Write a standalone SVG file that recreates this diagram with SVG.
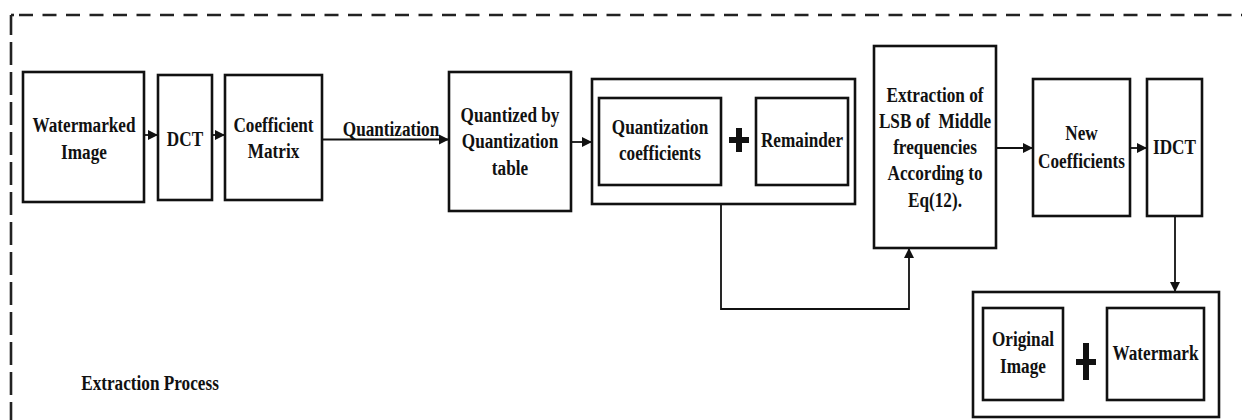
<svg xmlns="http://www.w3.org/2000/svg" width="1242" height="420" viewBox="0 0 1242 420">
<style>
.box{fill:#fff;stroke:#111;stroke-width:2.6}
.line{fill:none;stroke:#111;stroke-width:1.8}
.border{fill:none;stroke:#222;stroke-width:2.6}
.t{font-family:"Liberation Serif","Times New Roman",serif;font-weight:bold;font-size:20px;fill:#111;text-anchor:middle}
.plus{fill:#111}
</style>
<defs>
<marker id="ah" markerUnits="userSpaceOnUse" markerWidth="12" markerHeight="12" refX="10" refY="6" orient="auto">
<path d="M0,1 L10,6 L0,11 Z" fill="#111"/>
</marker>
</defs>
<rect width="1242" height="420" fill="#fff"/>
<g id="frame">
<path class="border" d="M11,15 H14"/>
<path class="border" d="M19,15 H1242" stroke-dasharray="14 9.5"/>
<path class="border" d="M11,15 V420" stroke-dasharray="23 7" stroke-dashoffset="3"/>
</g>
<g id="connectors">
<line class="line" x1="144" y1="135" x2="158" y2="135" marker-end="url(#ah)"/>
<line class="line" x1="212" y1="135" x2="225" y2="135" marker-end="url(#ah)"/>
<line class="line" x1="322" y1="139.5" x2="449" y2="139.5" marker-end="url(#ah)"/>
<line class="line" x1="571" y1="142" x2="592" y2="142" marker-end="url(#ah)"/>
<path class="line" d="M721,185 V309 H909 V248" marker-end="url(#ah)"/>
<line class="line" x1="996" y1="148" x2="1033" y2="148" marker-end="url(#ah)"/>
<line class="line" x1="1130" y1="148" x2="1147" y2="148" marker-end="url(#ah)"/>
<line class="line" x1="1175" y1="216" x2="1175" y2="292" marker-end="url(#ah)"/>
<text class="t" transform="translate(391 0) scale(0.86 1)" x="0" y="136">Quantization</text>
</g>
<g id="watermarked-image">
<rect class="box" x="23" y="72" width="121" height="130"/>
<text class="t" transform="translate(84 0) scale(0.86 1)"><tspan x="0" y="132">Watermarked</tspan><tspan x="0" y="159">Image</tspan></text>
</g>
<g id="dct">
<rect class="box" x="158" y="75" width="54" height="125"/>
<text class="t" transform="translate(185 0) scale(0.86 1)" x="0" y="146">DCT</text>
</g>
<g id="coefficient-matrix">
<rect class="box" x="225" y="75" width="97" height="125"/>
<text class="t" transform="translate(273.5 0) scale(0.86 1)"><tspan x="0" y="132">Coefficient</tspan><tspan x="0" y="158">Matrix</tspan></text>
</g>
<g id="quantized-by-table">
<rect class="box" x="449" y="72" width="122" height="139"/>
<text class="t" transform="translate(510 0) scale(0.86 1)"><tspan x="0" y="122">Quantized by</tspan><tspan x="0" y="148">Quantization</tspan><tspan x="0" y="175">table</tspan></text>
</g>
<g id="coeff-remainder">
<rect class="box" x="592" y="79" width="263" height="125"/>
<g id="quantization-coefficients">
<rect class="box" x="599" y="98" width="122" height="87"/>
<text class="t" transform="translate(660 0) scale(0.86 1)"><tspan x="0" y="134">Quantization</tspan><tspan x="0" y="160">coefficients</tspan></text>
</g>
<g id="plus1" class="plus">
<rect x="736" y="128" width="6" height="24"/>
<rect x="729" y="137" width="20" height="6"/>
</g>
<g id="remainder">
<rect class="box" x="756" y="98" width="92" height="87"/>
<text class="t" transform="translate(802 0) scale(0.86 1)" x="0" y="147">Remainder</text>
</g>
</g>
<g id="extraction-lsb">
<rect class="box" x="874" y="46" width="122" height="202"/>
<text class="t" transform="translate(935 0) scale(0.86 1)"><tspan x="0" y="102">Extraction of</tspan></text>
<text class="t" transform="translate(935 0) scale(0.86 1)" x="0" y="128" xml:space="preserve">LSB of  Middle</text>
<text class="t" transform="translate(935 0) scale(0.86 1)"><tspan x="0" y="154">frequencies</tspan><tspan x="0" y="180">According to</tspan><tspan x="0" y="207">Eq(12).</tspan></text>
</g>
<g id="new-coefficients">
<rect class="box" x="1033" y="79" width="97" height="137"/>
<text class="t" transform="translate(1081.5 0) scale(0.86 1)"><tspan x="0" y="140">New</tspan><tspan x="0" y="168">Coefficients</tspan></text>
</g>
<g id="idct">
<rect class="box" x="1147" y="79" width="55" height="137"/>
<text class="t" transform="translate(1174.5 0) scale(0.86 1)" x="0" y="154">IDCT</text>
</g>
<g id="original-watermark">
<rect class="box" x="973" y="292" width="246" height="125"/>
<g id="original-image">
<rect class="box" x="983" y="308" width="80" height="92"/>
<text class="t" transform="translate(1023 0) scale(0.86 1)"><tspan x="0" y="346">Original</tspan><tspan x="0" y="373">Image</tspan></text>
</g>
<g id="plus2" class="plus">
<rect x="1083" y="343" width="6" height="37"/>
<rect x="1076" y="359" width="20" height="6"/>
</g>
<g id="watermark">
<rect class="box" x="1107" y="308" width="97" height="92"/>
<text class="t" transform="translate(1155.5 0) scale(0.86 1)" x="0" y="360">Watermark</text>
</g>
</g>
<g id="caption">
<text class="t" transform="translate(150 0) scale(0.86 1)" x="0" y="390">Extraction Process</text>
</g>
</svg>
